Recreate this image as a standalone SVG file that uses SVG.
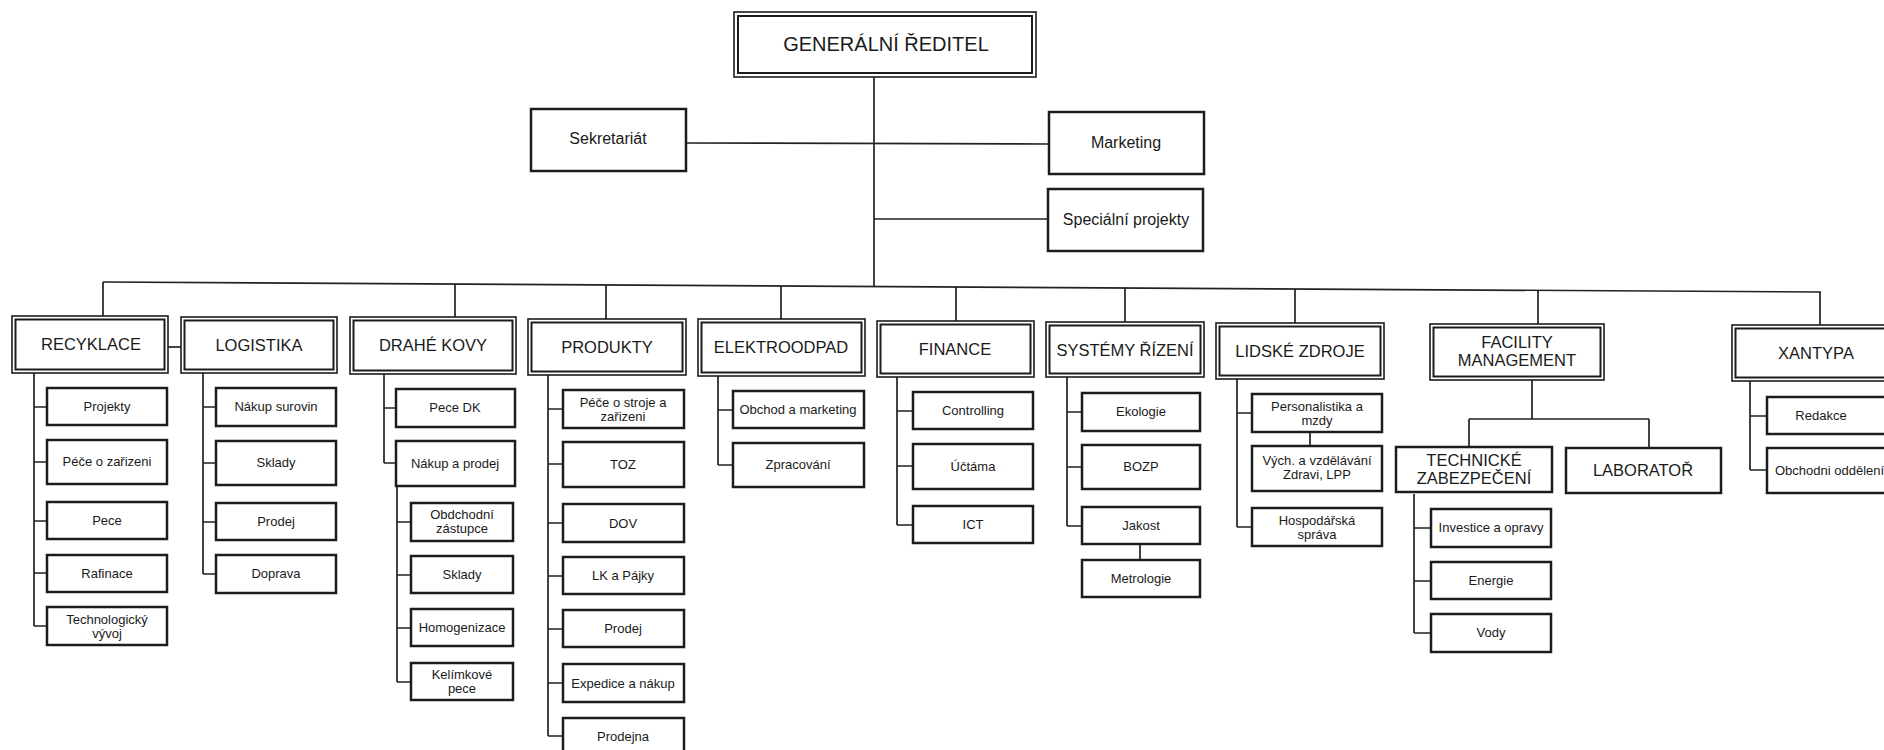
<svg xmlns="http://www.w3.org/2000/svg" width="1884" height="750" viewBox="0 0 1884 750">
  <style>
    .bg { fill: #ffffff; }
    .mo { fill: #ffffff; stroke: #1c1c1c; stroke-width: 1.6; }
    .mi { fill: none; stroke: #1c1c1c; stroke-width: 2; }
    .bx { fill: #ffffff; stroke: #1c1c1c; stroke-width: 2.5; }
    .conn path, .conn line { fill: none; stroke: #222222; stroke-width: 1.7; }
    text { font-family: "Liberation Sans", Arial, sans-serif; fill: #1a1a1a; text-anchor: middle; }
    .gr { font-size: 20px; }
    .h { font-size: 16.5px; }
    .m { font-size: 16px; }
    .t { font-size: 13px; }
  </style>
  <rect class="bg" x="0" y="0" width="1884" height="750"/>

  <!-- connectors -->
  <g class="conn" id="connectors">
    <!-- director trunk and staff links -->
    <line x1="874" y1="77" x2="874" y2="287"/>
    <line x1="686" y1="143" x2="1049" y2="144"/>
    <line x1="874" y1="219" x2="1048" y2="219"/>
    <!-- division bus -->
    <line x1="103" y1="282" x2="1821" y2="292"/>
    <line x1="103" y1="282" x2="103" y2="316"/>
    <line x1="455" y1="284" x2="455" y2="317"/>
    <line x1="606" y1="285" x2="606" y2="319"/>
    <line x1="781" y1="286" x2="781" y2="319"/>
    <line x1="956" y1="287" x2="956" y2="321"/>
    <line x1="1125" y1="288" x2="1125" y2="322"/>
    <line x1="1295" y1="289" x2="1295" y2="323"/>
    <line x1="1538" y1="290.5" x2="1538" y2="324"/>
    <line x1="1820" y1="292" x2="1820" y2="325"/>
    <line x1="168" y1="347" x2="181" y2="347"/>

    <!-- RECYKLACE -->
    <path d="M34 373 V626 M34 407 H47 M34 462 H47 M34 521 H47 M34 573 H47 M34 626 H47"/>
    <!-- LOGISTIKA -->
    <path d="M203 373 V574 M203 407 H216 M203 463 H216 M203 522 H216 M203 574 H216"/>
    <!-- DRAHÉ KOVY -->
    <path d="M384 374 V463 M384 408 H396 M384 463 H396"/>
    <path d="M397 486 V682 M397 522 H411 M397 575 H411 M397 628 H411 M397 682 H411"/>
    <!-- PRODUKTY -->
    <path d="M548 375 V736 M548 409 H563 M548 464 H563 M548 523 H563 M548 576 H563 M548 629 H563 M548 683 H563 M548 736 H563"/>
    <!-- ELEKTROODPAD -->
    <path d="M718 376 V465 M718 410 H733 M718 465 H733"/>
    <!-- FINANCE -->
    <path d="M897 377 V525 M897 411 H913 M897 466 H913 M897 525 H913"/>
    <!-- SYSTÉMY ŘÍZENÍ -->
    <path d="M1067 377 V526 M1067 412 H1082 M1067 467 H1082 M1067 526 H1082 M1140 544 V560"/>
    <!-- LIDSKÉ ZDROJE -->
    <path d="M1237 379 V527 M1237 413 H1252 M1237 527 H1252 M1310 432 V446"/>
    <!-- FACILITY MANAGEMENT -->
    <path d="M1532 380 V419 M1469 419 H1649 M1469 419 V447 M1649 419 V448"/>
    <path d="M1414 494 V633 M1414 528 H1431 M1414 581 H1431 M1414 633 H1431"/>
    <!-- XANTYPA -->
    <path d="M1750 381 V470 M1750 416 H1767 M1750 470 H1767"/>
  </g>

  <!-- top management -->
  <g id="generalni-reditel">
    <rect class="mo" x="734" y="12" width="302" height="65"/>
    <rect class="mi" x="738" y="16" width="294" height="57"/>
    <text class="gr" x="886" y="51">GENERÁLNÍ ŘEDITEL</text>
  </g>
  <g id="sekretariat">
    <rect class="bx" x="531" y="109" width="155" height="62"/>
    <text class="m" x="608" y="144">Sekretariát</text>
  </g>
  <g id="marketing">
    <rect class="bx" x="1049" y="112" width="155" height="62"/>
    <text class="m" x="1126" y="148">Marketing</text>
  </g>
  <g id="specialni-projekty">
    <rect class="bx" x="1048" y="189" width="155" height="62"/>
    <text class="m" x="1126" y="225">Speciální projekty</text>
  </g>

  <!-- RECYKLACE -->
  <g id="recyklace">
    <rect class="mo" x="12" y="316" width="156" height="57"/>
    <rect class="mi" x="15.5" y="319.5" width="149" height="50"/>
    <text class="h" x="91" y="350">RECYKLACE</text>
  </g>
  <g id="rec-projekty"><rect class="bx" x="47" y="388" width="120" height="37"/><text class="t" x="107" y="411">Projekty</text></g>
  <g id="rec-pece-zarizeni"><rect class="bx" x="47" y="440" width="120" height="44"/><text class="t" x="107" y="466">Péče o zařizeni</text></g>
  <g id="rec-pece"><rect class="bx" x="47" y="502" width="120" height="37"/><text class="t" x="107" y="525">Pece</text></g>
  <g id="rec-rafinace"><rect class="bx" x="47" y="555" width="120" height="37"/><text class="t" x="107" y="578">Rafinace</text></g>
  <g id="rec-vyvoj"><rect class="bx" x="47" y="607" width="120" height="38"/><text class="t" x="107" y="624">Technologický</text><text class="t" x="107" y="638">vývoj</text></g>

  <!-- LOGISTIKA -->
  <g id="logistika">
    <rect class="mo" x="181" y="317" width="156" height="56"/>
    <rect class="mi" x="184.5" y="320.5" width="149" height="49"/>
    <text class="h" x="259" y="351">LOGISTIKA</text>
  </g>
  <g id="log-nakup"><rect class="bx" x="216" y="388" width="120" height="38"/><text class="t" x="276" y="411">Nákup surovin</text></g>
  <g id="log-sklady"><rect class="bx" x="216" y="441" width="120" height="44"/><text class="t" x="276" y="467">Sklady</text></g>
  <g id="log-prodej"><rect class="bx" x="216" y="503" width="120" height="37"/><text class="t" x="276" y="526">Prodej</text></g>
  <g id="log-doprava"><rect class="bx" x="216" y="555" width="120" height="38"/><text class="t" x="276" y="578">Doprava</text></g>

  <!-- DRAHÉ KOVY -->
  <g id="drahe-kovy">
    <rect class="mo" x="350" y="317" width="166" height="57"/>
    <rect class="mi" x="353.5" y="320.5" width="159" height="50"/>
    <text class="h" x="433" y="351">DRAHÉ KOVY</text>
  </g>
  <g id="dk-pece"><rect class="bx" x="396" y="389" width="119" height="38"/><text class="t" x="455" y="412">Pece DK</text></g>
  <g id="dk-nakup-prodej"><rect class="bx" x="396" y="441" width="119" height="45"/><text class="t" x="455" y="468">Nákup a prodej</text></g>
  <g id="dk-zastupce"><rect class="bx" x="411" y="503" width="102" height="38"/><text class="t" x="462" y="519">Obdchodní</text><text class="t" x="462" y="533">zástupce</text></g>
  <g id="dk-sklady"><rect class="bx" x="411" y="556" width="102" height="37"/><text class="t" x="462" y="579">Sklady</text></g>
  <g id="dk-homogenizace"><rect class="bx" x="411" y="609" width="102" height="37"/><text class="t" x="462" y="632">Homogenizace</text></g>
  <g id="dk-kelimkove"><rect class="bx" x="411" y="663" width="102" height="37"/><text class="t" x="462" y="679">Kelímkové</text><text class="t" x="462" y="693">pece</text></g>

  <!-- PRODUKTY -->
  <g id="produkty">
    <rect class="mo" x="528" y="319" width="158" height="56"/>
    <rect class="mi" x="531.5" y="322.5" width="151" height="49"/>
    <text class="h" x="607" y="353">PRODUKTY</text>
  </g>
  <g id="pr-pece"><rect class="bx" x="563" y="390" width="121" height="38"/><text class="t" x="623" y="407">Péče o stroje a</text><text class="t" x="623" y="421">zařizeni</text></g>
  <g id="pr-toz"><rect class="bx" x="563" y="442" width="121" height="45"/><text class="t" x="623" y="469">TOZ</text></g>
  <g id="pr-dov"><rect class="bx" x="563" y="504" width="121" height="38"/><text class="t" x="623" y="528">DOV</text></g>
  <g id="pr-lk"><rect class="bx" x="563" y="557" width="121" height="37"/><text class="t" x="623" y="580">LK a Pájky</text></g>
  <g id="pr-prodej"><rect class="bx" x="563" y="610" width="121" height="37"/><text class="t" x="623" y="633">Prodej</text></g>
  <g id="pr-expedice"><rect class="bx" x="563" y="664" width="121" height="38"/><text class="t" x="623" y="688">Expedice a nákup</text></g>
  <g id="pr-prodejna"><rect class="bx" x="563" y="718" width="121" height="40"/><text class="t" x="623" y="741">Prodejna</text></g>

  <!-- ELEKTROODPAD -->
  <g id="elektroodpad">
    <rect class="mo" x="698" y="319" width="167" height="57"/>
    <rect class="mi" x="701.5" y="322.5" width="160" height="50"/>
    <text class="h" x="781" y="353">ELEKTROODPAD</text>
  </g>
  <g id="el-obchod"><rect class="bx" x="733" y="391" width="131" height="37"/><text class="t" x="798" y="414">Obchod a marketing</text></g>
  <g id="el-zpracovani"><rect class="bx" x="733" y="443" width="131" height="44"/><text class="t" x="798" y="469">Zpracování</text></g>

  <!-- FINANCE -->
  <g id="finance">
    <rect class="mo" x="877" y="321" width="157" height="56"/>
    <rect class="mi" x="880.5" y="324.5" width="150" height="49"/>
    <text class="h" x="955" y="355">FINANCE</text>
  </g>
  <g id="fi-controlling"><rect class="bx" x="913" y="392" width="120" height="37"/><text class="t" x="973" y="415">Controlling</text></g>
  <g id="fi-uctarna"><rect class="bx" x="913" y="444" width="120" height="45"/><text class="t" x="973" y="471">Účtáma</text></g>
  <g id="fi-ict"><rect class="bx" x="913" y="506" width="120" height="37"/><text class="t" x="973" y="529">ICT</text></g>

  <!-- SYSTÉMY ŘÍZENÍ -->
  <g id="systemy-rizeni">
    <rect class="mo" x="1046" y="322" width="158" height="55"/>
    <rect class="mi" x="1049.5" y="325.5" width="151" height="48"/>
    <text class="h" x="1125" y="356">SYSTÉMY ŘÍZENÍ</text>
  </g>
  <g id="sr-ekologie"><rect class="bx" x="1082" y="393" width="118" height="38"/><text class="t" x="1141" y="416">Ekologie</text></g>
  <g id="sr-bozp"><rect class="bx" x="1082" y="445" width="118" height="44"/><text class="t" x="1141" y="471">BOZP</text></g>
  <g id="sr-jakost"><rect class="bx" x="1082" y="507" width="118" height="37"/><text class="t" x="1141" y="530">Jakost</text></g>
  <g id="sr-metrologie"><rect class="bx" x="1082" y="560" width="118" height="37"/><text class="t" x="1141" y="583">Metrologie</text></g>

  <!-- LIDSKÉ ZDROJE -->
  <g id="lidske-zdroje">
    <rect class="mo" x="1216" y="323" width="168" height="56"/>
    <rect class="mi" x="1219.5" y="326.5" width="161" height="49"/>
    <text class="h" x="1300" y="357">LIDSKÉ ZDROJE</text>
  </g>
  <g id="lz-personalistika"><rect class="bx" x="1252" y="394" width="130" height="38"/><text class="t" x="1317" y="411">Personalistika a</text><text class="t" x="1317" y="425">mzdy</text></g>
  <g id="lz-vzdelavani"><rect class="bx" x="1252" y="446" width="130" height="45"/><text class="t" x="1317" y="465">Vých. a vzdělávání</text><text class="t" x="1317" y="479">Zdravi, LPP</text></g>
  <g id="lz-hospodarska"><rect class="bx" x="1252" y="508" width="130" height="38"/><text class="t" x="1317" y="525">Hospodářská</text><text class="t" x="1317" y="539">správa</text></g>

  <!-- FACILITY MANAGEMENT -->
  <g id="facility-management">
    <rect class="mo" x="1430" y="324" width="174" height="56"/>
    <rect class="mi" x="1433.5" y="327.5" width="167" height="49"/>
    <text class="h" x="1517" y="348">FACILITY</text>
    <text class="h" x="1517" y="366">MANAGEMENT</text>
  </g>
  <g id="technicke-zabezpeceni">
    <rect class="bx" x="1396" y="447" width="156" height="45"/>
    <text class="h" x="1474" y="466">TECHNICKÉ</text>
    <text class="h" x="1474" y="484">ZABEZPEČENÍ</text>
  </g>
  <g id="laborator">
    <rect class="bx" x="1566" y="448" width="155" height="45"/>
    <text class="h" x="1643" y="476">LABORATOŘ</text>
  </g>
  <g id="tz-investice"><rect class="bx" x="1431" y="509" width="120" height="38"/><text class="t" x="1491" y="532">Investice a opravy</text></g>
  <g id="tz-energie"><rect class="bx" x="1431" y="562" width="120" height="37"/><text class="t" x="1491" y="585">Energie</text></g>
  <g id="tz-vody"><rect class="bx" x="1431" y="614" width="120" height="38"/><text class="t" x="1491" y="637">Vody</text></g>

  <!-- XANTYPA -->
  <g id="xantypa">
    <rect class="mo" x="1732" y="325" width="170" height="56"/>
    <rect class="mi" x="1735.5" y="328.5" width="163" height="49"/>
    <text class="h" x="1816" y="359">XANTYPA</text>
  </g>
  <g id="xa-redakce"><rect class="bx" x="1767" y="397" width="140" height="37"/><text class="t" x="1821" y="420">Redakce</text></g>
  <g id="xa-obchodni"><rect class="bx" x="1767" y="448" width="140" height="45"/><text class="t" x="1775" y="475" style="text-anchor:start">Obchodni oddělení</text></g>
</svg>
